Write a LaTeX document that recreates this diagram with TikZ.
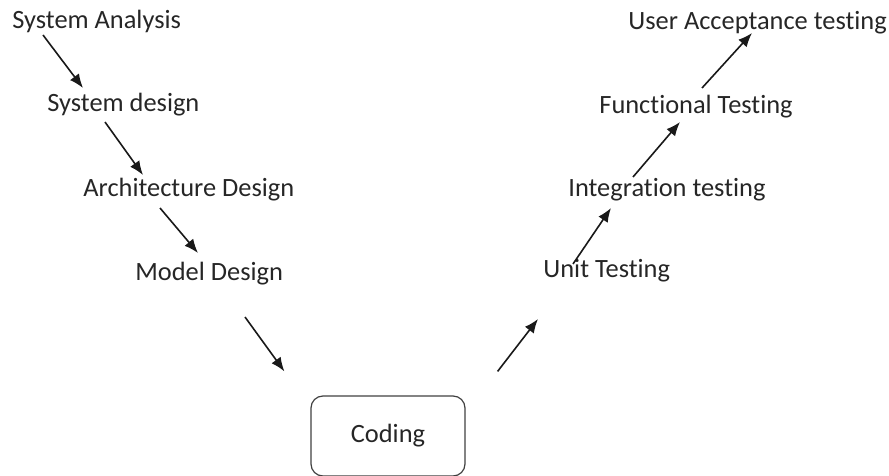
\documentclass[tikz,border=0pt]{standalone}
\usepackage{fontspec}
\setmainfont[Ligatures=NoCommon]{Carlito}
\usepackage{tikz}
\usetikzlibrary{arrows.meta}
\usetikzlibrary{positioning}

\tikzset{
  phase/.style={anchor=base west,inner sep=0pt,text=black!85,font=\fontsize{13.2}{15}\selectfont},
  codebox/.style={draw=black!75,line width=0.6pt,rounded corners=6pt,minimum width=77pt,minimum height=40pt,text=black!85,font=\fontsize{13.2}{15}\selectfont},
  flow/.style={-{Latex[length=7pt,width=5.6pt]},line width=0.8pt,black!90}
}

\begin{document}
\begin{tikzpicture}[x=0.5pt,y=-0.5pt]
\useasboundingbox (0,0) rectangle (889,476);
% left side of the V
\node[phase] (sa) at (12,29) {System Analysis};
\node[phase] (sd) at (47,112) {System design};
\node[phase] (ad) at (83,197) {Architecture Design};
\node[phase] (md) at (135,280) {Model Design};
% bottom
\node[codebox] (code) at (388,436) {Coding};
% right side of the V
\node[phase] (ut) at (543,277) {Unit Testing};
\node[phase] (it) at (568,197) {Integration testing};
\node[phase] (ft) at (599,113) {Functional Testing};
\node[phase] (ua) at (628,30) {User Acceptance testing};

\draw[flow] ([shift={(31,6)}]sa.base west) -- ([shift={(36,-24)}]sd.base west);
\draw[flow] ([shift={(58,10)}]sd.base west) -- ([shift={(60,-22)}]ad.base west);
\draw[flow] ([shift={(77,11)}]ad.base west) -- ([shift={(63,-27)}]md.base west);
\draw[flow] ([shift={(110,37)}]md.base west) -- ([shift={(-26,-24)}]code.north west);
\draw[flow] ([shift={(32,-24)}]code.north east) -- ([shift={(-5,42)}]ut.base west);
\draw[flow] ([shift={(30,-13)}]ut.base west) -- ([shift={(43,11)}]it.base west);
\draw[flow] ([shift={(65,-20)}]it.base west) -- ([shift={(81,9)}]ft.base west);
\draw[flow] ([shift={(103,-25)}]ft.base west) -- ([shift={(124,3)}]ua.base west);
\end{tikzpicture}
\end{document}
